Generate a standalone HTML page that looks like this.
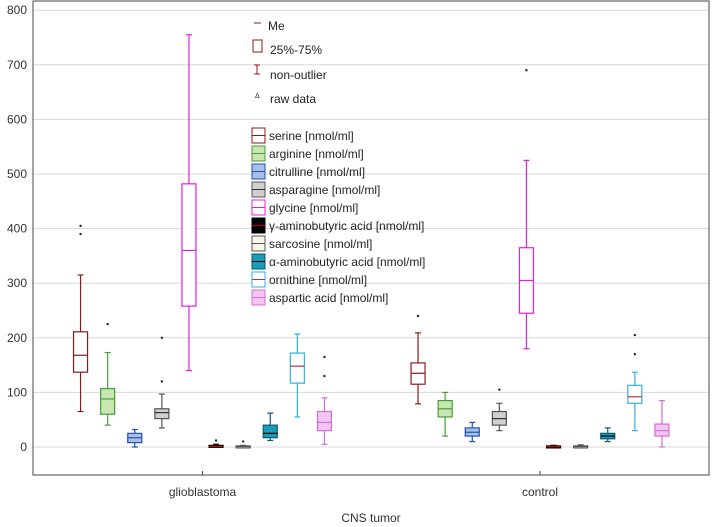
<!DOCTYPE html>
<html><head><meta charset="utf-8">
<style>
body{margin:0;background:#fff;}
svg{display:block;font-family:"Liberation Sans",Arial,sans-serif;}
</style></head>
<body>
<svg id="chart" width="716" height="527" xmlns="http://www.w3.org/2000/svg"></svg>
<script>
const groups = ["glioblastoma", "control"];
const seriesNames = ["serine [nmol/ml]","arginine [nmol/ml]","citrulline [nmol/ml]","asparagine [nmol/ml]","glycine [nmol/ml]","\u03b3-aminobutyric acid [nmol/ml]","sarcosine [nmol/ml]","\u03b1-aminobutyric acid [nmol/ml]","ornithine [nmol/ml]","aspartic acid [nmol/ml]"];
const yTicks = [0,100,200,300,400,500,600,700,800];
// per group: [whiskerLow, q1, median, q3, whiskerHigh]
const glioStats = [
 [65,137,168,211,315],[40,60,88,107,173],[0,8,17,25,32],[35,52,63,70,97],[140,258,360,482,755],
 [0,0,1,3,5],[0,0,1,2,3],[12,17,25,40,62],[55,117,148,172,207],[5,30,45,65,90]];
const ctrlStats = [
 [79,115,135,154,209],[20,55,70,85,100],[10,20,27,35,45],[30,40,52,65,80],[180,245,305,365,525],
 [0,0,1,2,3],[0,0,1,2,4],[10,15,20,25,35],[30,80,92,113,137],[0,20,30,42,85]];
const glioOutliers = [[390,405],[225],[],[120,200],[],[12],[10],[],[],[130,165]];
const ctrlOutliers = [[240],[],[],[105],[690],[],[],[],[205,170],[]];

const lineCol = ["#8b1a1a","#4a9e3a","#2050b0","#555","#e020e0","#000","#555","#0a5a70","#30b0e0","#d070d0"];
const fillCol = ["#fff","#c8e6b0","#a8c0e8","#cfcfcf","#fff","#000","#f8f4e8","#1a9cb8","#fff","#f4c4f4"];
const medCol  = ["#8b1a1a","#4a9e3a","#2050b0","#333","#e020e0","#c00","#555","#000","#c03040","#d070d0"];

const svg = document.getElementById('chart');
const NS = "http://www.w3.org/2000/svg";
const L=33, R=709, T=10, B=475;
function y(v){ return 447 - v*0.546; }
const groupCenters=[202.5,540];
function x(g,i){ return groupCenters[g] + (i-4.5)*27.1; }
function el(tag, attrs){ const e=document.createElementNS(NS,tag); for(const k in attrs) e.setAttribute(k,attrs[k]); svg.appendChild(e); return e; }

// grid
yTicks.forEach(t=>{
  const gl = el('line',{x1:L,x2:R,y1:y(t),y2:y(t),stroke:"#d8d8d8","stroke-width":1});
  
  
  const tl = el('text',{x:27,y:y(t)+4,"text-anchor":"end","font-size":12,fill:"#333"});
  tl.textContent=t;
  
  
});
// frame
const fr = el('rect',{x:L,y:T-9,width:R-L,height:B-T+9,fill:"none",stroke:"#444","stroke-width":1});


groups.forEach((g,gi)=>{
  const tk = el('line',{x1:groupCenters[gi],x2:groupCenters[gi],y1:B,y2:B-4,stroke:"#444"});
  
  
  const t = el('text',{x:groupCenters[gi],y:496,"text-anchor":"middle","font-size":12,fill:"#333"});
  t.textContent=g;
  
  
});
const xt = el('text',{x:371,y:522,"text-anchor":"middle","font-size":12,fill:"#333"});
xt.textContent="CNS tumor";



// boxes
[glioStats,ctrlStats].forEach((stats,gi)=>{
  const outs = gi===0?glioOutliers:ctrlOutliers;
  stats.forEach((s,i)=>{
    const cx=x(gi,i), w=14;
    const wh = el('line',{x1:cx,x2:cx,y1:y(s[0]),y2:y(s[4]),stroke:lineCol[i],"stroke-width":1.2});
    
    
    [s[0],s[4]].forEach(v=>{
      const c = el('line',{x1:cx-3,x2:cx+3,y1:y(v),y2:y(v),stroke:lineCol[i],"stroke-width":1.2});
      
      
    });
    const bh = Math.max(2, y(s[1])-y(s[3]));
    const bx = el('rect',{x:cx-w/2,y:y(s[3]),width:w,height:bh,fill:fillCol[i],stroke:lineCol[i],"stroke-width":1.2});
    
    
    const md = el('line',{x1:cx-w/2,x2:cx+w/2,y1:y(s[2]),y2:y(s[2]),stroke:medCol[i],"stroke-width":1.2});
    
    
    outs[i].forEach(v=>{
      const p = el('circle',{cx:cx,cy:y(v),r:1.2,fill:"#222"});
      
      
    });
  });
});

// legend
function txt(xx,yy,s,name){ const t=el('text',{x:xx,y:yy,"font-size":12,fill:"#222"}); t.textContent=s;   return t; }
const lm = el('line',{x1:254,x2:261,y1:23,y2:23,stroke:"#8b1a1a"});  
txt(268,30,"Me","legend-median");
const lb = el('rect',{x:253,y:40,width:9,height:12,fill:"none",stroke:"#8b1a1a"});  
txt(270,54,"25%-75%","legend-box");
const lw = el('path',{d:"M254 65h6M257 65v9M254 74h6",stroke:"#8b1a1a",fill:"none"});  
txt(270,79,"non-outlier","legend-whisker");
txt(255,98,"\u0394","legend-raw-symbol").setAttribute('font-size','7');
txt(270,103,"raw data","legend-raw");
seriesNames.forEach((n,i)=>{
  const yy=128+i*18;
  const sw = el('rect',{x:252,y:yy,width:13,height:15,fill:fillCol[i],stroke:lineCol[i]});
  
  
  const sm = el('line',{x1:252,x2:265,y1:yy+7.5,y2:yy+7.5,stroke:medCol[i]});
  
  
  txt(269,yy+12,n,'legend-entry');
});
</script>
</body></html>
